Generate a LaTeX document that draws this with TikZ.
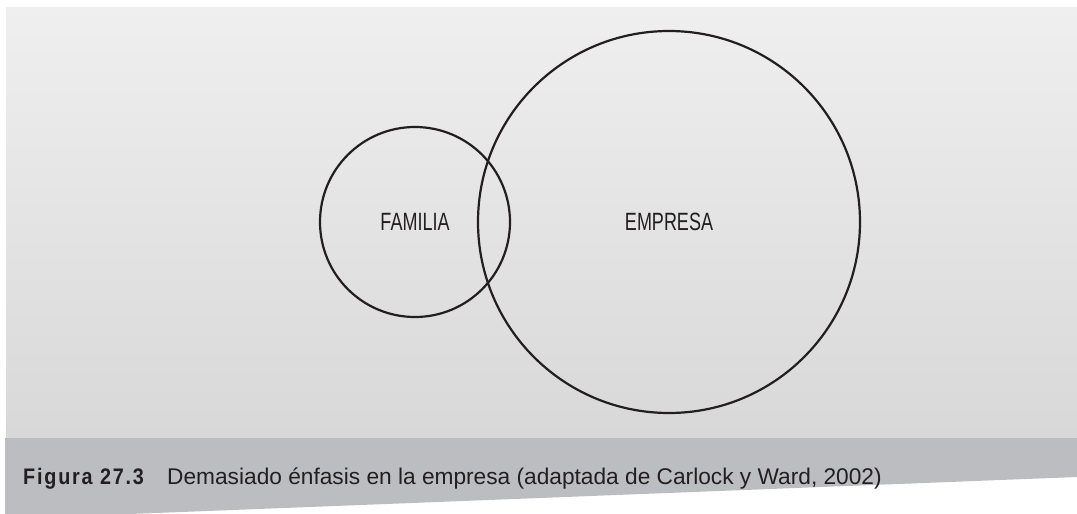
\documentclass[tikz,border=0pt]{standalone}
\usepackage{fontspec}
\setmainfont{Liberation Sans}
\newfontfamily\narrowfont[FakeStretch=0.72]{Liberation Sans}
\newfontfamily\figfont[FakeStretch=0.88,LetterSpace=8]{Liberation Sans Bold}
\usetikzlibrary{positioning}
\definecolor{inkblack}{HTML}{231f20}
\definecolor{paneltop}{HTML}{efefef}
\definecolor{panelbot}{HTML}{d8d8d8}
\definecolor{capgrey}{HTML}{bcbdc0}

\begin{document}
\begin{tikzpicture}[
  x=1pt, y=-1pt,
  ring/.style={circle, draw=inkblack, line width=2.2pt, inner sep=0pt,
               font=\narrowfont\fontsize{25}{25}\selectfont, text=inkblack},
  figlbl/.style={anchor=base west, inner sep=0pt, text=inkblack,
                 font=\figfont\fontsize{22.5}{22.5}\selectfont},
  captxt/.style={anchor=base west, inner sep=0pt, text=inkblack,
                 font=\fontsize{22.7}{22.7}\selectfont},
]
  \useasboundingbox (0,0) rectangle (1077,514);
  \fill[white] (0,0) rectangle (1077,514);

  % background panel and caption band
  \shade[top color=paneltop, bottom color=panelbot] (6,7) rectangle (1077,438);
  \fill[capgrey] (5,438) -- (1077,438) -- (1077,477) -- (130,514) -- (5,514) -- cycle;

  % the two circles
  \node[ring, minimum size=190] (familia) at (415,222) {FAMILIA};
  \node[ring, minimum size=382] (empresa) at (669,222) {EMPRESA};

  % caption
  \node[figlbl] (fignum) at (23,484) {Figura 27.3};
  \node[captxt] (figcap) at (167,484)
    {Demasiado énfasis en la empresa (adaptada de Carlock y Ward, 2002)};
\end{tikzpicture}
\end{document}
